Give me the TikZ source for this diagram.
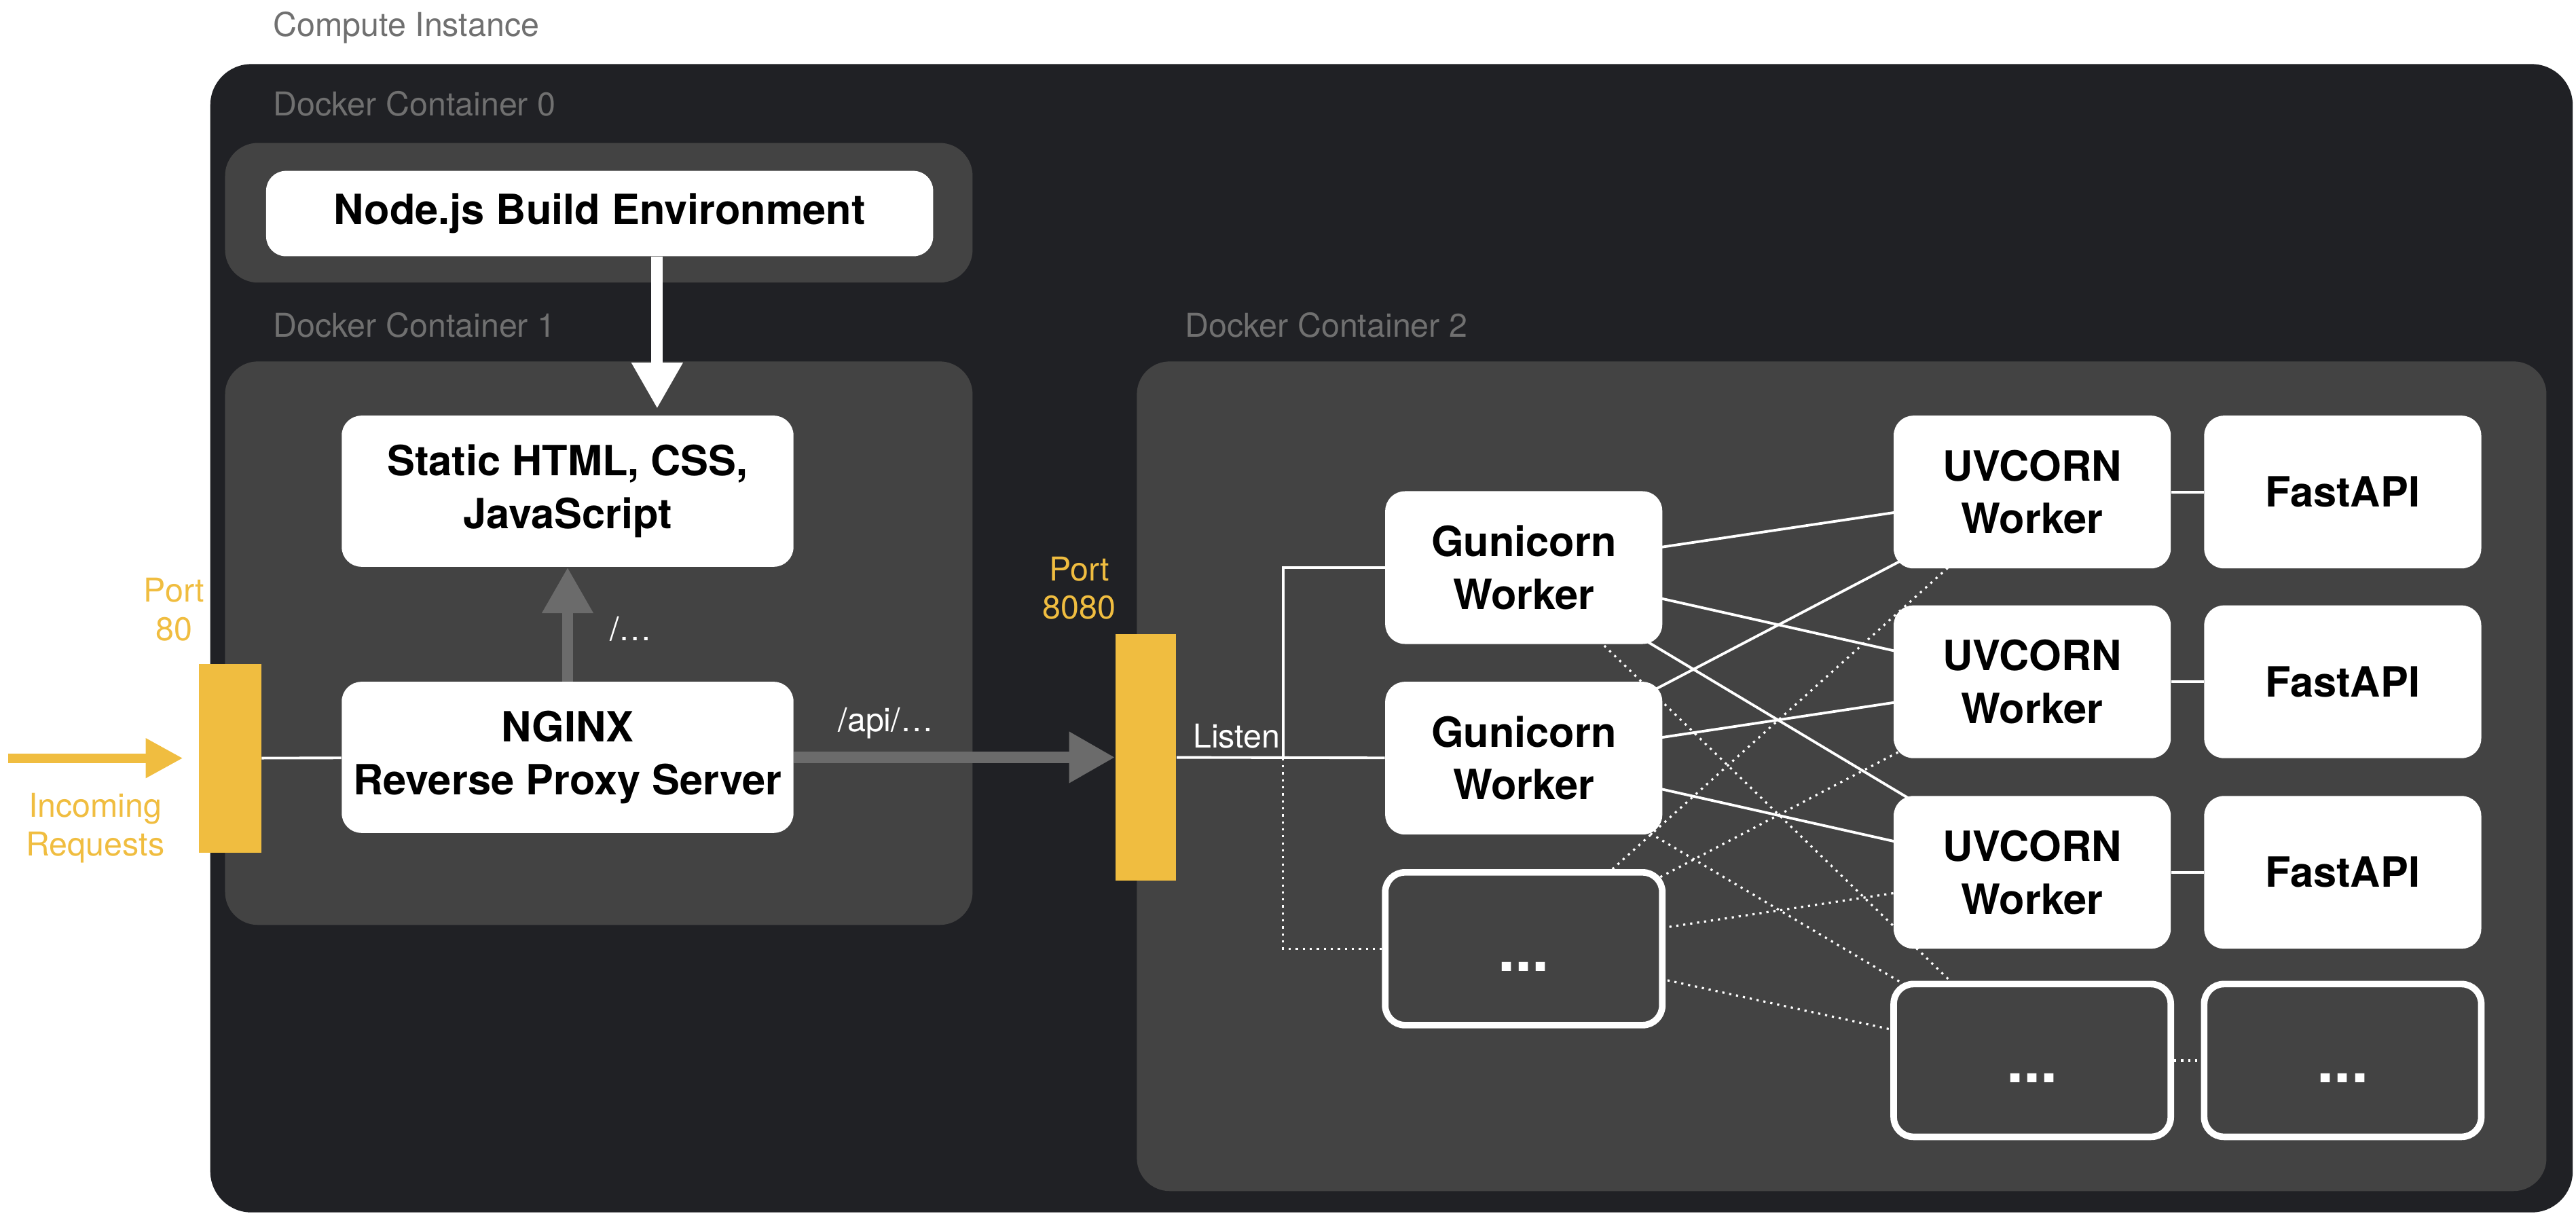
\documentclass[tikz,border=0pt]{standalone}
\usepackage{fontspec}
\setmainfont{TeX Gyre Heros}
\usetikzlibrary{arrows.meta}

\definecolor{hostbg}{HTML}{202125}
\definecolor{dockerbg}{HTML}{434343}
\definecolor{portyellow}{HTML}{F0BD40}
\definecolor{routegray}{HTML}{6B6B6B}
\definecolor{labelgray}{HTML}{707070}

\pgfdeclarelayer{back}
\pgfdeclarelayer{wires}
\pgfsetlayers{back,wires,main}

\tikzset{
  box/.style={fill=white, rounded corners=9pt, minimum width=126.5pt, minimum height=69.75pt, align=center, inner sep=0.75pt, font=\fontsize{19}{24}\selectfont\bfseries},
  morebox/.style={box, fill=dockerbg, draw=white, line width=3pt, text=white, font=\fontsize{28}{30}\selectfont\bfseries},
  port/.style={fill=portyellow, inner sep=0pt},
  caption/.style={anchor=west, inner sep=0.75pt, text=labelgray, font=\fontsize{15}{18}\selectfont},
  note/.style={inner sep=0.75pt, align=center, font=\fontsize{15}{17.5}\selectfont},
  wire/.style={draw=white, line width=1.2pt},
  maybe/.style={draw=white, line width=1pt, dash pattern=on 1pt off 2.2pt},
  route/.style={draw=routegray, line width=5.25pt, -{Triangle[length=21pt,width=22pt]}},
}

\begin{document}
\begin{tikzpicture}[x=0.75pt,y=0.75pt,yscale=-1,xscale=1]
\useasboundingbox (0,0) rectangle (1568,740);

%Shape: Containers
\begin{pgfonlayer}{back}
\fill [hostbg, rounded corners=18.75pt] (128,39) rectangle (1566,738);
\fill [dockerbg, rounded corners=15pt] (137,87) rectangle (592,172);
\fill [dockerbg, rounded corners=15pt] (137,220) rectangle (592,563);
\fill [dockerbg, rounded corners=15pt] (692,220) rectangle (1550,725);
\end{pgfonlayer}

% Text Node
\node [caption] (hostlabel) at (165,17) {Compute Instance};
\node [caption] (dock0label) at (165,63) {Docker Container 0};
\node [caption] (dock1label) at (165,198) {Docker Container 1};
\node [caption] (dock2label) at (720,198) {Docker Container 2};

%Boxes: container 0 and 1
\node [box, minimum width=304.5pt, minimum height=39pt] (nodejs) at (365,130) {Node.js Build Environment};
\node [box, minimum width=206.25pt, minimum height=69pt] (static) at (345.5,299) {Static HTML, CSS,\\JavaScript};
\node [box, minimum width=206.25pt, minimum height=69pt] (nginx) at (345.5,461) {NGINX\\Reverse Proxy Server};

%Ports
\node [port, minimum width=28.5pt, minimum height=86.25pt] (port80) at (140,461.5) {};
\node [port, minimum width=27.75pt, minimum height=112.5pt] (port8080) at (697.5,461) {};
\node [note, text=portyellow] (port80label) at (106,371) {Port\\80};
\node [note, text=portyellow] (inlabel) at (58,504) {Incoming\\Requests};
\node [note, text=portyellow] (port8080label) at (657,358) {Port\\8080};
\coordinate (incoming) at (5,461.5);

% Text Node
\node [note, text=white, anchor=west] (rootlabel) at (370,383) {/…};
\node [note, text=white, anchor=west] (apilabel) at (509,440) {/api/…};
\node [note, text=white, anchor=west] (listenlabel) at (725,448) {Listen};

%Boxes: container 2
\node [box] (g1) at (927.5,345.5) {Gunicorn\\Worker};
\node [box] (g2) at (927.5,461.5) {Gunicorn\\Worker};
\node [morebox] (gmore) at (927.5,577.5) {\vphantom{A}...};
\foreach \i/\y in {1/299.5,2/415,3/531} {
  \node [box] (uv\i) at (1237,\y) {UVCORN\\Worker};
  \node [box] (fa\i) at (1426,\y) {FastAPI};
}
\node [morebox] (uvmore) at (1237,645.5) {\vphantom{A}...};
\node [morebox] (famore) at (1426,645.5) {\vphantom{A}...};
\coordinate (split) at (781,461.5);

%Straight Lines
\begin{pgfonlayer}{wires}
\draw [-{Triangle[length=17pt,width=17pt]}, draw=portyellow, line width=4.3pt, shorten >=7pt] (incoming) -- (port80);
\draw [wire] (port80) -- (nginx);
\draw [route] (nginx) -- (static);
\draw [route] (nginx) -- (port8080);
\draw [route, draw=white, shorten >=3pt] ([xshift=26.25pt]nodejs.south) -- ([xshift=26.25pt]nodejs.south |- static.north);

\draw [wire] (port8080) -- (g2);
\draw [wire] (split) |- (g1);
\draw [maybe] (split) |- (gmore);

\foreach \g in {g1,g2} {
  \foreach \u in {uv1,uv2,uv3} \draw [wire] (\g.center) -- (\u.center);
  \draw [maybe] (\g.center) -- (uvmore.center);
}
\foreach \u in {uv1,uv2,uv3,uvmore} \draw [maybe] (gmore.center) -- (\u.center);
\foreach \i in {1,2,3} \draw [wire] (uv\i) -- (fa\i);
\draw [maybe] (uvmore) -- (famore);
\end{pgfonlayer}

\end{tikzpicture}
\end{document}
